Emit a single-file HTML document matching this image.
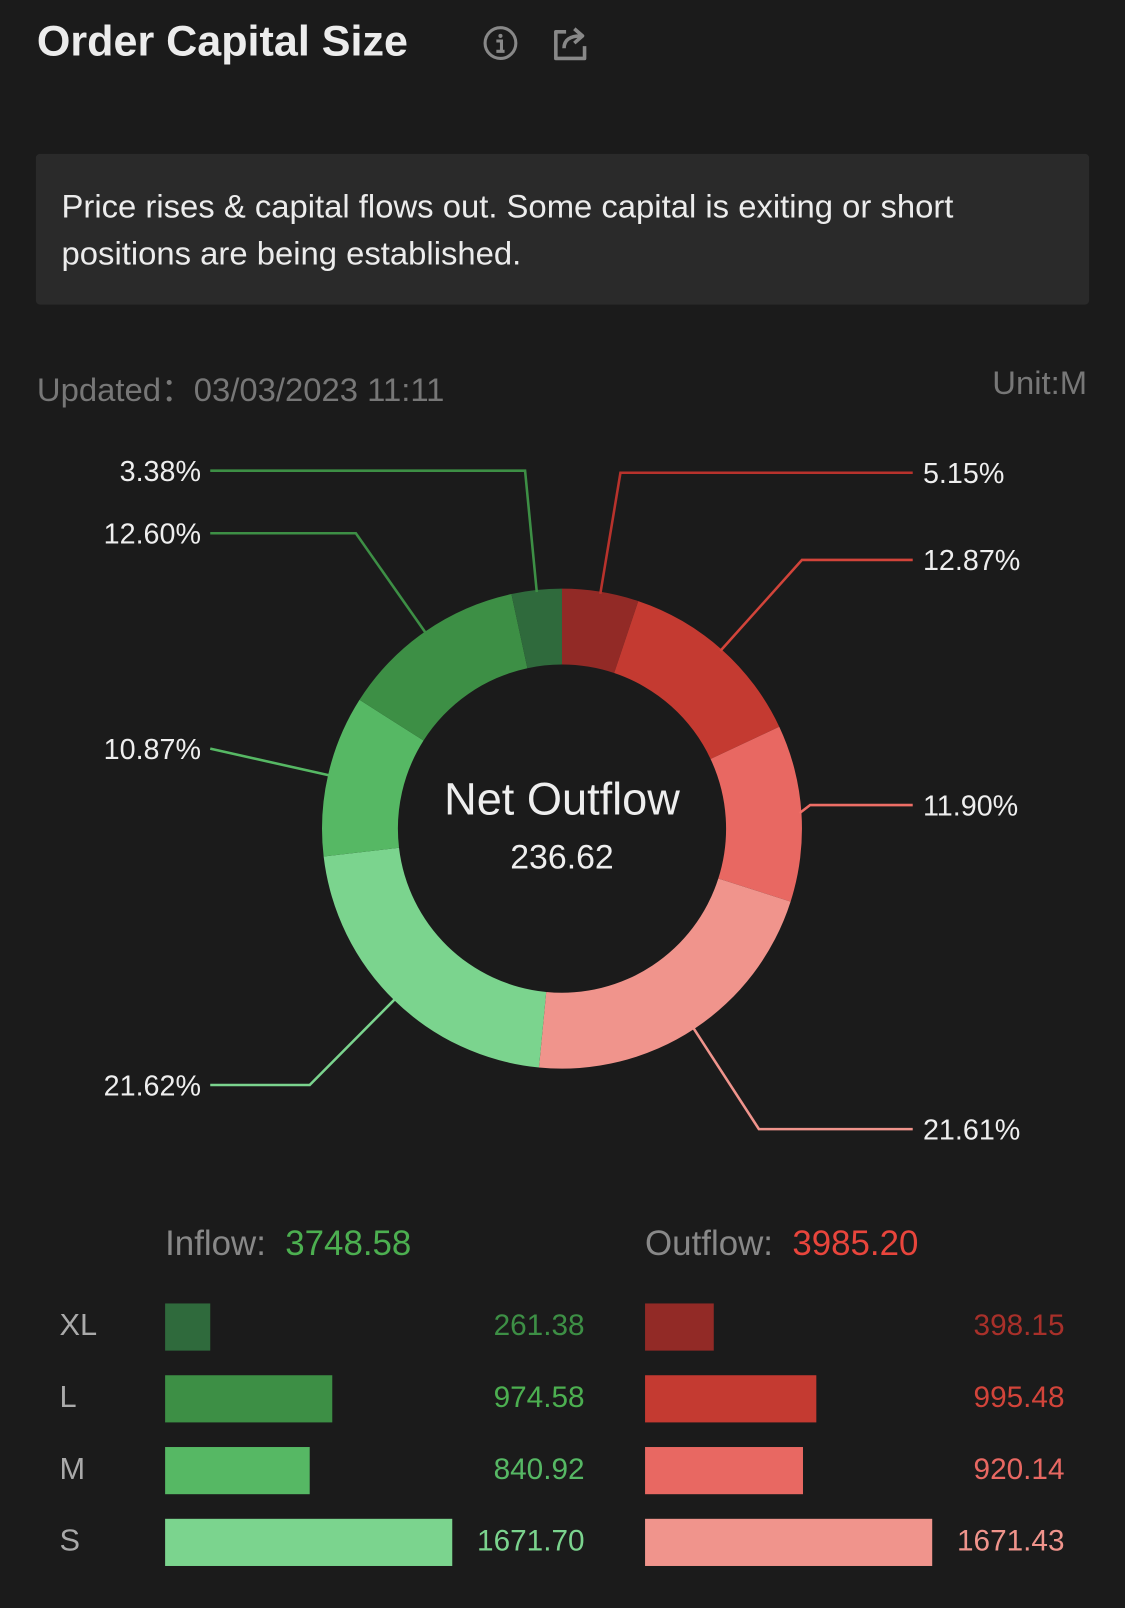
<!DOCTYPE html>
<html><head><meta charset="utf-8">
<style>
html,body{margin:0;padding:0;background:#1b1b1b;}
body{width:1125px;height:1608px;overflow:hidden;font-family:"Liberation Sans",sans-serif;}
#wrap{position:absolute;left:0;top:0;width:1097px;height:1568px;transform:scale(1.02553);transform-origin:0 0;}
.t{position:absolute;white-space:nowrap;}
</style></head><body>
<div id="wrap">
<div class="t" style="left:36px;top:16px;font-size:42px;font-weight:bold;color:#ececec;">Order Capital Size</div>
<svg style="position:absolute;left:470px;top:25px" width="36" height="36"><circle cx="18" cy="17" r="15" fill="none" stroke="#888" stroke-width="3"/><circle cx="18" cy="10" r="2" fill="#888"/><path d="M14 15h5v10M14 25h8" stroke="#888" stroke-width="3" fill="none"/></svg>
<svg style="position:absolute;left:536px;top:23px" width="40" height="38"><path d="M16 8H6v26h28V22" fill="none" stroke="#888" stroke-width="3.5" stroke-linejoin="round"/><path d="M14 24c0-8 6-12 16-12M24 5l8 7-8 7" fill="none" stroke="#888" stroke-width="3.5" stroke-linejoin="round"/></svg>
<div style="position:absolute;left:35px;top:150px;width:1027px;height:147px;background:#2a2a2a;border-radius:4px;">
<div style="position:absolute;left:25px;top:28px;font-size:32px;line-height:46px;color:#ececec;width:980px;">Price rises &amp; capital flows out. Some capital is exiting or short positions are being established.</div></div>
<div class="t" style="left:36px;top:355px;font-size:32px;color:#777;">Updated：03/03/2023 11:11</div>
<div class="t" style="right:37px;top:355px;font-size:32px;color:#777;">Unit:M</div>
<svg id="chart" style="position:absolute;left:0;top:0" width="1097" height="1160"></svg>
<div class="t" style="left:348px;width:400px;text-align:center;top:755px;font-size:44px;color:#eee;">Net Outflow</div>
<div class="t" style="left:348px;width:400px;text-align:center;top:817px;font-size:33px;color:#eee;">236.62</div>
<div class="t" style="left:161px;top:1194px;font-size:34px;color:#888;">Inflow:&nbsp; <span style="color:#4caf50">3748.58</span></div>
<div class="t" style="left:629px;top:1194px;font-size:34px;color:#888;">Outflow:&nbsp; <span style="color:#e8453c">3985.20</span></div>
<div id="bars"></div>
</div>
<script>
const segNames=['out-xl','out-l','out-m','out-s','in-s','in-m','in-l','in-xl'];
const segValues=[398.15,995.48,920.14,1671.43,1671.70,840.92,974.58,261.38];
const segColors=['#922a26','#c43a31','#e86862','#f0948c','#7bd48e','#56b864','#3d8f45','#2f6a3c'];
const lineColors=['#b8322c','#d2443a','#ee6e66','#f0948c','#7bd48e','#56b864','#3d8f45','#3d8f45'];
const labelY=[461,546,785,1101,1058,730,520,459];
const elbowX=[605,782,790,740,302,205,347,512];
const cats=['XL','L','M','S'];
const inflow=[261.38,974.58,840.92,1671.70];
const outflow=[398.15,995.48,920.14,1671.43];
const inCol=['#2f6a3c','#3d8f45','#56b864','#7bd48e'];
const outCol=['#922a26','#c43a31','#e86862','#f0948c'];
const inTxt=['#3d8f45','#4caf50','#56b864','#7bd48e'];
const outTxt=['#a8302a','#d2443a','#e86862','#f0948c'];
const NS='http://www.w3.org/2000/svg';
const svg=document.getElementById('chart');
const cx=548,cy=808,R=234,r=160;
const total=segValues.reduce((a,b)=>a+b,0);
function pt(a,rad){return [cx+rad*Math.sin(a),cy-rad*Math.cos(a)];}
let acc=0;
segValues.forEach((v,i)=>{
 const a0=acc/total*2*Math.PI;acc+=v;const a1=acc/total*2*Math.PI;
 const p0=pt(a0,R),p1=pt(a1,R),q1=pt(a1,r),q0=pt(a0,r);const lg=a1-a0>Math.PI?1:0;
 const p=document.createElementNS(NS,'path');
 p.setAttribute('d',`M${p0}A${R},${R} 0 ${lg} 1 ${p1}L${q1}A${r},${r} 0 ${lg} 0 ${q0}Z`);
 p.setAttribute('fill',segColors[i]);
 
 
 svg.appendChild(p);
 const am=(a0+a1)/2;const s=pt(am,R-2);const right=i<4;
 const ex=right?890:205;
 const l=document.createElementNS(NS,'polyline');
 l.setAttribute('points',`${s} ${elbowX[i]},${labelY[i]} ${ex},${labelY[i]}`);
 l.setAttribute('fill','none');l.setAttribute('stroke',lineColors[i]);l.setAttribute('stroke-width','2.5');
 
 
 svg.appendChild(l);
 const t=document.createElementNS(NS,'text');
 t.setAttribute('x',right?900:196);t.setAttribute('y',labelY[i]+10);
 t.setAttribute('text-anchor',right?'start':'end');
 t.setAttribute('fill','#eee');t.setAttribute('font-size','28');
 t.setAttribute('font-family','Liberation Sans, sans-serif');
 t.textContent=(v/total*100).toFixed(2)+'%';
 
 
 svg.appendChild(t);
});
const bars=document.getElementById('bars');
const maxV=Math.max(...inflow,...outflow);const W=280;
cats.forEach((c,i)=>{
 const y=1271+i*70;
 const lab=document.createElement('div');lab.className='t';
 lab.style.cssText=`left:58px;top:${y+5}px;font-size:30px;color:#aaa;`;lab.textContent=c;
 
 
 bars.appendChild(lab);
 [[inflow,161,inCol,inTxt,570,'inflow'],[outflow,629,outCol,outTxt,1038,'outflow']].forEach(([arr,x0,col,tc,rx,nm])=>{
  const b=document.createElement('div');
  b.style.cssText=`position:absolute;left:${x0}px;top:${y}px;height:46px;width:${arr[i]/maxV*W}px;background:${col[i]};`;
  
  
  bars.appendChild(b);
  const t=document.createElement('div');t.className='t';
  t.style.cssText=`right:${1097-rx}px;top:${y+6}px;font-size:29px;color:${tc[i]};`;
  t.textContent=arr[i].toFixed(2);
  
  
  bars.appendChild(t);
 });
});
</script>
</body></html>
